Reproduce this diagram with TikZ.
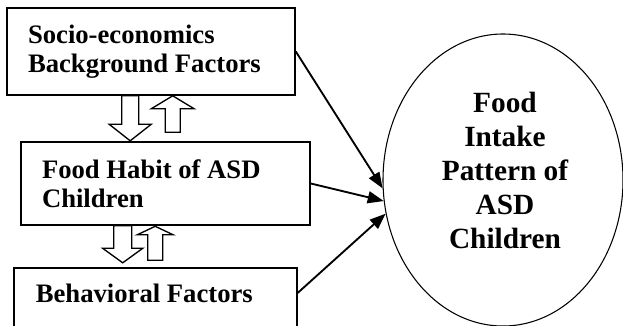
\documentclass[tikz,border=0pt]{standalone}
\usepackage{fontspec}
\setmainfont{Liberation Serif}
\usetikzlibrary{shapes.geometric,arrows.meta,positioning,calc}

\begin{document}
\begin{tikzpicture}[x=0.75pt,y=-0.75pt,
  box/.style={draw,line width=1.2pt,align=flush left,inner xsep=15.75pt,
    font=\fontsize{20}{21.75}\selectfont\bfseries},
  hollow/.style={draw,fill=white,line width=1pt,line join=miter},
  arr/.style={-{Triangle[length=12pt,width=9pt]},line width=1.4pt}]
\useasboundingbox (0,0) rectangle (623,325);
% factor boxes
\node[box,text width=184.5pt,minimum height=65.25pt] (soc) at (151,51.5)
  {Socio-economics\\Background Factors};
\node[box,text width=185.25pt,minimum height=62.25pt] (hab) at (165.5,183.5)
  {Food Habit of ASD\\Children};
\node[box,anchor=north west,text width=179.25pt,inner xsep=16.5pt,inner ysep=12pt,
  text height=14.25pt,text depth=40pt] (beh) at (13,267) {Behavioral Factors};
% outcome
\node[draw,ellipse,line width=0.8pt,minimum width=180pt,minimum height=219pt,
  inner sep=0pt] (fip) at (503,180) {};
\node[align=center,font=\fontsize{22}{25.5}\selectfont\bfseries] (fiptext)
  at ($(fip.center)+(2,-10)$) {Food\\Intake\\Pattern of\\ASD\\Children};
% two-way block arrows
\draw[hollow] ($(soc.south west)+(115.5,0)$) -- ++(17,0) -- ++(0,28.5)
  -- ++(12.5,0) -- ++(-21,16.5) -- ++(-21,-16.5) -- ++(12.5,0) -- cycle;
\draw[hollow] ($(soc.south west)+(166.5,0)$) -- ++(21.5,13) -- ++(-14,0)
  -- ++(0,23.5) -- ++(-15,0) -- ++(0,-23.5) -- ++(-14,0) -- cycle;
\draw[hollow] ($(hab.south west)+(93.5,0)$) -- ++(18,0) -- ++(0,22.5)
  -- ++(11,0) -- ++(-20,14.5) -- ++(-20,-14.5) -- ++(11,0) -- cycle;
\draw[hollow] ($(hab.south west)+(135,0.5)$) -- ++(18,8.5) -- ++(-10.5,0)
  -- ++(0,25.5) -- ++(-15,0) -- ++(0,-25.5) -- ++(-10.5,0) -- cycle;
% influences
\draw[arr] (soc.east) -- (fip.184.8);
\draw[arr] (hab.east) -- (fip.190.5);
\draw[arr] ($(beh.north east)+(0,26)$) -- (fip.196.2);
\end{tikzpicture}
\end{document}
